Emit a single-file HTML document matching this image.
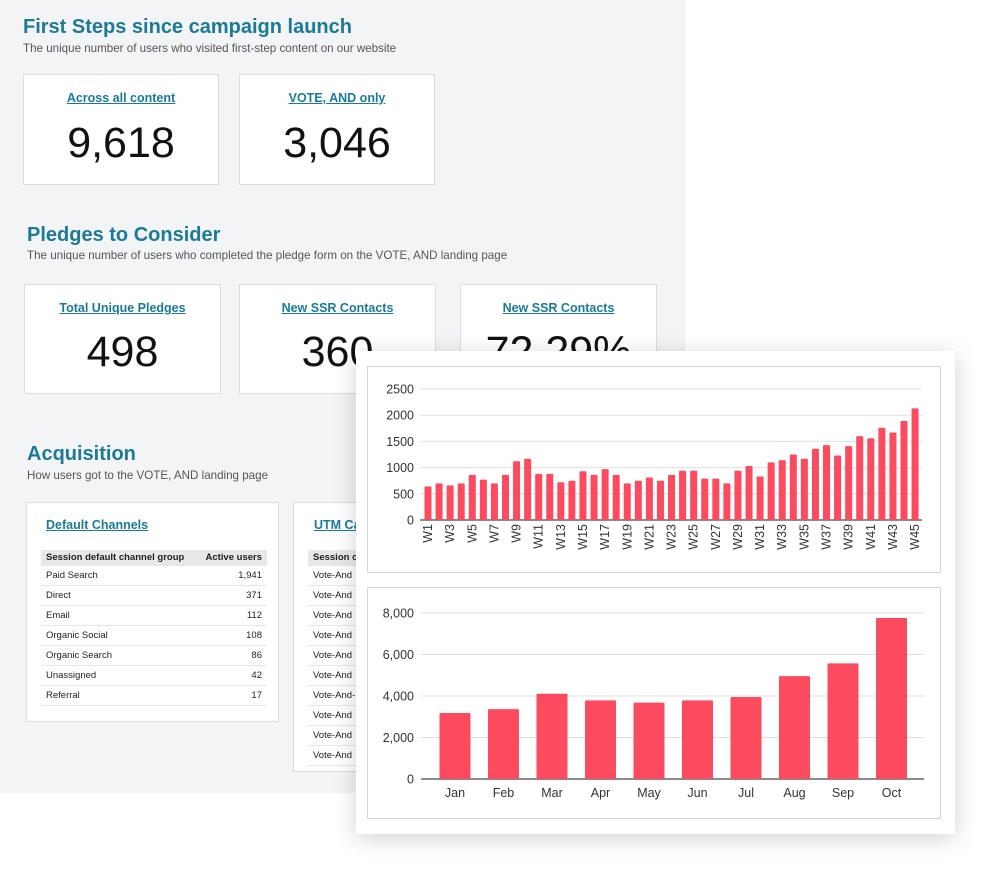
<!DOCTYPE html>
<html><head><meta charset="utf-8">
<style>
*{margin:0;padding:0;box-sizing:border-box}
body{width:1000px;height:879px;background:#fff;position:relative;overflow:hidden;font-family:"Liberation Sans",sans-serif}
.bg{position:absolute;left:0;top:0;width:685px;height:793px;background:#f3f4f5}
.abs{position:absolute}
.h{color:#1b7a99;font-weight:bold;font-size:20px}
.sub{color:#555;font-size:11.6px}
.card{position:absolute;background:#fff;border:1px solid #dcdcdc}
.ct{position:absolute;left:0;right:0;text-align:center;color:#1b7a99;font-weight:bold;font-size:12.5px;text-decoration:underline}
.cv{position:absolute;left:0;right:0;text-align:center;color:#111;font-size:43px}
table{border-collapse:collapse;font-size:9.5px;color:#222}
td,th{height:20px;padding:0 5px;border-bottom:1px solid #e6e6e6;text-align:left;white-space:nowrap}
th{background:#e8e8e8;height:15px;font-weight:bold}
.r{text-align:right}
</style></head><body>
<div class="bg"></div>
<div class="abs h" style="left:23px;top:16px">First Steps since campaign launch</div>
<div class="abs sub" style="left:23px;top:42px">The unique number of users who visited first-step content on our website</div>
<div class="card" style="left:23px;top:74px;width:196px;height:111px">
 <div class="ct" style="top:16px">Across all content</div>
 <div class="cv" style="top:44px">9,618</div></div>
<div class="card" style="left:239px;top:74px;width:196px;height:111px">
 <div class="ct" style="top:16px">VOTE, AND only</div>
 <div class="cv" style="top:44px">3,046</div></div>

<div class="abs h" style="left:27px;top:224px">Pledges to Consider</div>
<div class="abs sub" style="left:27px;top:249px">The unique number of users who completed the pledge form on the VOTE, AND landing page</div>
<div class="card" style="left:24px;top:284px;width:197px;height:110px">
 <div class="ct" style="top:16px">Total Unique Pledges</div>
 <div class="cv" style="top:43px">498</div></div>
<div class="card" style="left:239px;top:284px;width:197px;height:110px">
 <div class="ct" style="top:16px">New SSR Contacts</div>
 <div class="cv" style="top:43px">360</div></div>
<div class="card" style="left:460px;top:284px;width:197px;height:110px">
 <div class="ct" style="top:16px">New SSR Contacts</div>
 <div class="cv" style="top:43px">72.29%</div></div>

<div class="abs h" style="left:27px;top:443px">Acquisition</div>
<div class="abs sub" style="left:27px;top:469px">How users got to the VOTE, AND landing page</div>
<div class="card" style="left:26px;top:502px;width:253px;height:220px">
 <div class="abs" style="left:19px;top:15px;color:#1b7a99;font-weight:bold;font-size:12.5px;text-decoration:underline">Default Channels</div>
 <table class="abs" style="left:14px;top:47px;width:226px">
 <tr><th>Session default channel group</th><th class="r">Active users</th></tr>
 <tr><td>Paid Search</td><td class="r">1,941</td></tr>
 <tr><td>Direct</td><td class="r">371</td></tr>
 <tr><td>Email</td><td class="r">112</td></tr>
 <tr><td>Organic Social</td><td class="r">108</td></tr>
 <tr><td>Organic Search</td><td class="r">86</td></tr>
 <tr><td>Unassigned</td><td class="r">42</td></tr>
 <tr><td>Referral</td><td class="r">17</td></tr>
 </table></div>
<div class="card" style="left:293px;top:502px;width:253px;height:270px">
 <div class="abs" style="left:20px;top:15px;color:#1b7a99;font-weight:bold;font-size:12.5px;text-decoration:underline">UTM Campaigns</div>
 <table class="abs" style="left:14px;top:47px;width:226px">
 <tr><th>Session campaign</th><th class="r">Active users</th></tr>
 <tr><td>Vote-And</td><td></td></tr><tr><td>Vote-And</td><td></td></tr><tr><td>Vote-And</td><td></td></tr>
 <tr><td>Vote-And</td><td></td></tr><tr><td>Vote-And</td><td></td></tr><tr><td>Vote-And</td><td></td></tr>
 <tr><td>Vote-And-</td><td></td></tr><tr><td>Vote-And</td><td></td></tr><tr><td>Vote-And</td><td></td></tr><tr><td>Vote-And</td><td></td></tr>
 </table></div>

<div class="abs" style="left:356px;top:351px;width:599px;height:483px;background:#fff;box-shadow:0 4px 22px rgba(0,0,0,0.18)"></div>
<svg class="abs" style="left:0;top:0" width="1000" height="879" id="svg"></svg>
<script>
const weekLabels=[];for(let i=1;i<=45;i++)weekLabels.push('W'+i);
const weekValues=[640,700,660,700,860,770,700,860,1120,1170,880,880,720,750,930,860,970,860,700,750,810,750,860,940,940,790,790,700,940,1030,830,1100,1140,1250,1170,1360,1430,1230,1410,1600,1560,1760,1670,1890,2130];
const weekTicks=[0,500,1000,1500,2000,2500];
const months=['Jan','Feb','Mar','Apr','May','Jun','Jul','Aug','Sep','Oct'];
const monthValues=[3180,3370,4110,3790,3680,3790,3950,4960,5570,7760];
const monthTicks=[0,2000,4000,6000,8000];
const monthTickLabels=['0','2,000','4,000','6,000','8,000'];
const NS='http://www.w3.org/2000/svg',svg=document.getElementById('svg');
function mk(t,a,txt){const e=document.createElementNS(NS,t);for(const k in a)e.setAttribute(k,a[k]);if(txt!==undefined)e.textContent=txt;svg.appendChild(e);return e;}
let f=mk('rect',{x:367.5,y:366.5,width:573,height:206,fill:'#fff',stroke:'#d4d4d4'});


f=mk('rect',{x:367.5,y:587.5,width:573,height:231,fill:'#fff',stroke:'#d4d4d4'});


const wy=v=>520-v*(131/2500), wx=i=>428+i*11.07;
weekTicks.forEach(t=>{
 const g=mk('line',{x1:420,x2:922,y1:wy(t),y2:wy(t),stroke:t?'#e0e0e0':'#666','stroke-width':t?1:1.5});
 
 
 const l=mk('text',{x:414,y:wy(t)+4.5,'text-anchor':'end','font-size':12.5,fill:'#333','font-family':'Liberation Sans'},String(t));
 
 
});
weekValues.forEach((v,i)=>{
 const b=mk('rect',{x:wx(i)-3.5,y:wy(v),width:7,height:520-wy(v),fill:'#fc4a5f',rx:1});
 
 
 if(i%2===0){const x=wx(i)+4;
  const l=mk('text',{x:x,y:524,'text-anchor':'end','font-size':12.5,fill:'#333','font-family':'Liberation Sans',transform:`rotate(-90 ${x} 524)`},weekLabels[i]);
  
  }
});
const my=v=>779-v*(166/8000), mx=i=>455+i*48.5;
monthTicks.forEach((t,k)=>{
 const g=mk('line',{x1:421,x2:924,y1:my(t),y2:my(t),stroke:t?'#e0e0e0':'#666','stroke-width':t?1:1.5});
 
 
 const l=mk('text',{x:414,y:my(t)+4.5,'text-anchor':'end','font-size':12.5,fill:'#333','font-family':'Liberation Sans'},monthTickLabels[k]);
 
 
});
monthValues.forEach((v,i)=>{
 const b=mk('rect',{x:mx(i)-15.5,y:my(v),width:31,height:779-my(v),fill:'#fc4a5f',rx:1});
 
 
 const l=mk('text',{x:mx(i),y:797,'text-anchor':'middle','font-size':12.5,fill:'#333','font-family':'Liberation Sans'},months[i]);
 
 
});
</script>
</body></html>
